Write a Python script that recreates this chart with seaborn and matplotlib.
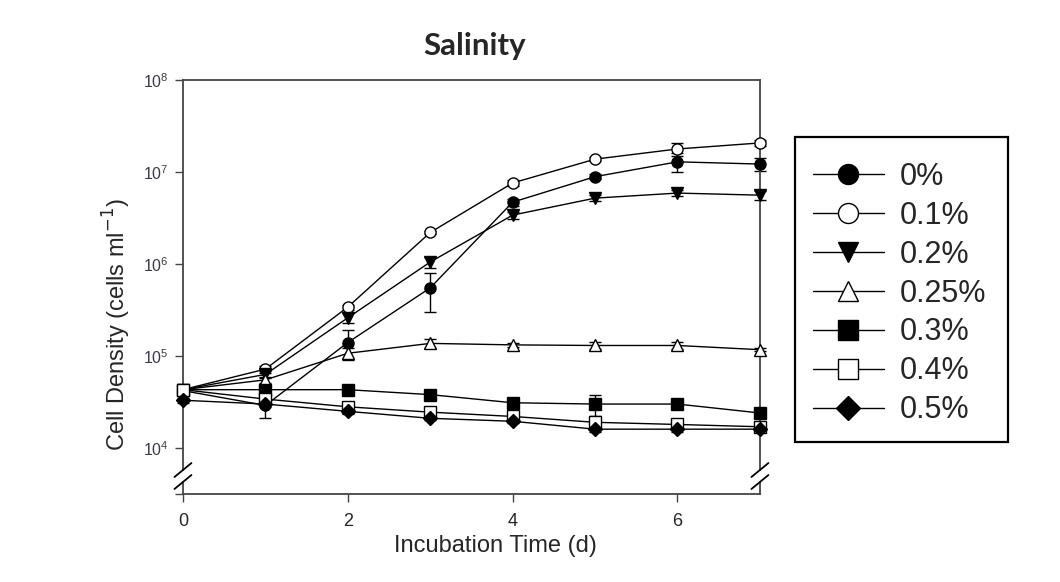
import numpy as np
import pandas as pd
import matplotlib
matplotlib.use("Agg")
import matplotlib.pyplot as plt
import seaborn as sns

##### データ
days = [0, 1, 2, 3, 4, 5, 6, 7]
labels = ['0%', '0.1%', '0.2%', '0.25%', '0.3%', '0.4%', '0.5%']

s0   = [4.2e4, 2.9e4, 1.4e5, 5.5e5, 4.7e6, 8.9e6, 1.29e7, 1.22e7]
s01  = [4.3e4, 7.2e4, 3.4e5, 2.2e6, 7.6e6, 1.38e7, 1.78e7, 2.07e7]
s02  = [4.3e4, 6.3e4, 2.6e5, 1.05e6, 3.4e6, 5.2e6, 5.9e6, 5.6e6]
s025 = [4.3e4, 5.5e4, 1.07e5, 1.37e5, 1.32e5, 1.3e5, 1.3e5, 1.17e5]
s03  = [4.3e4, 4.3e4, 4.3e4, 3.8e4, 3.1e4, 3.0e4, 3.0e4, 2.4e4]
s04  = [4.3e4, 3.4e4, 2.8e4, 2.45e4, 2.2e4, 1.9e4, 1.8e4, 1.7e4]
s05  = [3.3e4, 3.0e4, 2.5e4, 2.1e4, 1.95e4, 1.6e4, 1.6e4, 1.6e4]

# 誤差(SD)
e0   = [2e3, 8e3, 5e4, 2.5e5, 4e5, 6e5, 3e6, 2e6]
e01  = [2e3, 6e3, 2e4, 1e5, 5e5, 6e5, 3e6, 1.5e6]
e02  = [2e3, 5e3, 3e4, 1.5e5, 3e5, 4e5, 4e5, 6e5]
e025 = [2e3, 4e3, 1.5e4, 1.5e4, 8e3, 1.2e4, 1.2e4, 5e3]
e03  = [2e3, 2e3, 2e3, 2e3, 2e3, 8e3, 1.5e3, 1.5e3]
e04  = [2e3, 2e3, 1.5e3, 1.5e3, 2e3, 1e3, 1.5e3, 1e3]
e05  = [2e3, 2e3, 1.5e3, 1e3, 1e3, 1e3, 1e3, 1e3]

series = [s0, s01, s02, s025, s03, s04, s05]
errors = [e0, e01, e02, e025, e03, e04, e05]
markers = ['o', 'o', 'v', '^', 's', 's', 'D']
faces = ['k', 'w', 'k', 'w', 'k', 'w', 'k']

##### スタイル
sns.set_style('ticks')
plt.rcParams['font.family'] = ['Liberation Sans', 'DejaVu Sans']

fig = plt.figure(figsize=(10.6, 5.82), dpi=100)
ax = fig.add_axes([0.1726, 0.1924, 0.5443, 0.6701])
ax_low = fig.add_axes([0.1726, 0.1512, 0.5443, 0.0206])

handles = []
for vals, err, lab, m, fc in zip(series, errors, labels, markers, faces):
    eb = ax.errorbar(days, vals, yerr=err, fmt='none', ecolor='k', elinewidth=1,
                     capsize=4, capthick=1, zorder=2)
    for art in eb.lines[1] + eb.lines[2]:
        art.set_clip_on(False)
    sns.lineplot(x=days, y=vals, ax=ax, color='k', linewidth=1, marker=m,
                 markersize=8 if m != 'D' else 7, markerfacecolor=fc,
                 markeredgecolor='k', markeredgewidth=1, zorder=3, label=lab,
                 clip_on=False)
    handles.append(ax.lines[-1])
if ax.get_legend() is not None:
    ax.get_legend().remove()

##### 軸設定(上側)
ax.set_yscale('log')
ax.set_ylim(10 ** 3.76, 1e8)
ax.set_xlim(0, 7)
ax.set_yticks([1e4, 1e5, 1e6, 1e7, 1e8])
ax.yaxis.set_minor_locator(matplotlib.ticker.NullLocator())
ax.set_xticks([])
ax.spines['bottom'].set_visible(False)
for sp in ['left', 'right', 'top']:
    ax.spines[sp].set_visible(True)
    ax.spines[sp].set_color('#444444')
    ax.spines[sp].set_linewidth(1.3)
ax.tick_params(axis='y', direction='out', length=6, width=1, color='#444444',
               labelsize=11.5, labelcolor='#3a3a4a', pad=4)
ax.set_ylabel('Cell Density (cells ml$^{-1}$)', fontsize=17)
ax.yaxis.set_label_coords(-0.087, 0.372)

fig.text(0.448, 0.921, 'Salinity', fontsize=22.5, fontweight='bold',
         family=['Lato', 'DejaVu Sans'], ha='center', va='center')

##### 軸設定(下側)
ax_low.set_xlim(0, 7)
ax_low.set_ylim(0, 1)
ax_low.set_xticks([0, 2, 4, 6])
ax_low.set_yticks([0])
ax_low.set_yticklabels([''])
for sp in ['left', 'right', 'bottom']:
    ax_low.spines[sp].set_visible(True)
    ax_low.spines[sp].set_color('#444444')
    ax_low.spines[sp].set_linewidth(1.3)
ax_low.spines['top'].set_visible(False)
ax_low.patch.set_alpha(0)
ax_low.tick_params(axis='x', direction='out', length=6, width=1, color='#444444',
                   labelsize=13, pad=8)
ax_low.tick_params(axis='y', direction='out', length=6, width=1, color='#444444')
ax_low.set_xlabel('Incubation Time (d)', fontsize=17)
ax_low.xaxis.set_label_coords(0.541, -3.4)

##### 破断マーク
dx, dy = 0.008, 0.012
for a, yy in [(ax, 0.0), (ax_low, 1.0)]:
    for xx in [0.0, 1.0]:
        x0, y0 = fig.transFigure.inverted().transform(a.transAxes.transform((xx, yy)))
        fig.add_artist(plt.Line2D([x0 - dx, x0 + dx], [y0 - dy, y0 + dy],
                                  color='k', linewidth=1.3))

##### 凡例(枠は別に描く)
fig.add_artist(plt.Rectangle((0.75, 0.2405), 0.2009, 0.5241, transform=fig.transFigure,
                             fill=False, edgecolor='k', linewidth=1.6))
leg = fig.legend(handles, labels, loc='upper left', bbox_to_anchor=(0.767, 0.7216),
                 fontsize=22, frameon=False, borderpad=0, borderaxespad=0,
                 labelspacing=0.29, handlelength=2.32, handletextpad=0.52,
                 markerscale=1.8)

fig.savefig('out.png', dpi=100)
